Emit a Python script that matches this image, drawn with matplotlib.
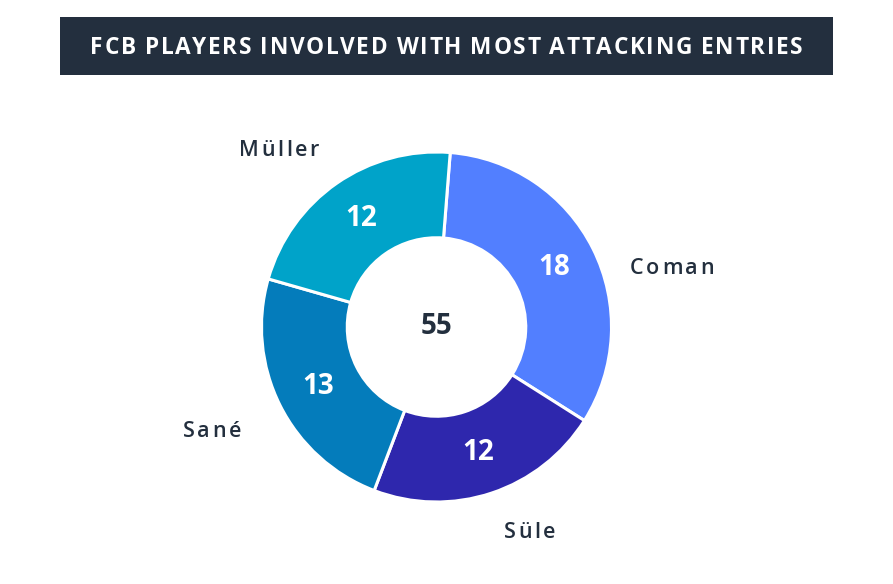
import matplotlib
matplotlib.use("Agg")
import matplotlib.pyplot as plt
import numpy as np
from matplotlib.patches import Rectangle
from matplotlib.font_manager import FontProperties
from matplotlib.transforms import ScaledTranslation

title = "FCB PLAYERS INVOLVED WITH MOST ATTACKING ENTRIES"
players = ["Coman", "Süle", "Sané", "Müller"]
entries = [18, 12, 13, 12]
colors = ["#527FFF", "#2E27AD", "#047CBB", "#00A3C9"]

W, H = 893, 584
DPI = 100
fig = plt.figure(figsize=(W / DPI, H / DPI), dpi=DPI)
fig.patch.set_facecolor("white")
plt.rcParams['font.family'] = ['Open Sans', 'DejaVu Sans']
renderer = fig.canvas.get_renderer()


def char_width(c, fp):
    if c == " ":
        a = renderer.get_text_width_height_descent("x x", fp, ismath=False)[0]
        b = renderer.get_text_width_height_descent("xx", fp, ismath=False)[0]
        return a - b
    return renderer.get_text_width_height_descent(c, fp, ismath=False)[0]


def tracked_text(x, y, s, transform, fp, color, ha="left", spacing=None,
                 target_width=None, dy_px=0.0):
    widths = [char_width(c, fp) for c in s]
    if target_width is not None:
        spacing = (target_width - sum(widths)) / (len(s) - 1)
    total = sum(widths) + spacing * (len(s) - 1)
    start = {"left": 0.0, "center": -total / 2, "right": -total}[ha]
    off = start
    for c, w in zip(s, widths):
        tr = transform + ScaledTranslation(off / DPI, dy_px / DPI, fig.dpi_scale_trans)
        fig.text(x, y, c, transform=tr, fontproperties=fp, color=color,
                 ha="left", va="baseline")
        off += w + spacing


# title banner
fig.patches.append(Rectangle((60 / W, 1 - 75 / H), (833 - 60) / W, (75 - 17) / H,
                             transform=fig.transFigure, facecolor="#232F3E",
                             edgecolor="none", zorder=0))
fp_title = FontProperties(family="Open Sans", weight="bold", size=16.3)
tracked_text(446.5 / W, 1 - 46 / H, title, fig.transFigure, fp_title, "white",
             ha="center", target_width=712, dy_px=-8.3)

# donut axes: center (436.5, 327) px, radius 175 px
cx, cy, rpx = 436.5, 327, 175
lim = 1.5
size = lim * 2 * rpx
ax = fig.add_axes([(cx - size / 2) / W, (H - cy - size / 2) / H, size / W, size / H])
ax.axis("off")

wedges, _ = ax.pie(entries, colors=colors, startangle=85.5, counterclock=False,
                   radius=1.0, wedgeprops=dict(width=0.49, edgecolor="white", linewidth=2.2))
ax.set_xlim(-lim, lim)
ax.set_ylim(-lim, lim)
ax.set_aspect("equal")

fp_label = FontProperties(family="Open Sans", weight="semibold", size=15.5)
label_adjust = {"Coman": (-9, 1.16), "Sané": (1, 1.26), "Müller": (-1.5, 1.225),
                "Süle": (0, 1.22)}
for w, name, val in zip(wedges, players, entries):
    mid = np.deg2rad((w.theta1 + w.theta2) / 2)
    x, y = np.cos(mid), np.sin(mid)
    ax.text(0.755 * x, 0.755 * y, str(val), color="white", fontsize=20,
            fontweight="bold", ha="center", va="center")
    dang, dist = label_adjust[name]
    a = mid + np.deg2rad(dang)
    lx, ly = dist * np.cos(a), dist * np.sin(a)
    ha = "left" if lx > 0 else "right"
    tracked_text(lx, ly, name, ax.transData, fp_label, "#232F3E", ha=ha,
                 spacing=2.6, dy_px=-8)

ax.text(0, 0, str(sum(entries)), color="#232F3E", fontsize=20, fontweight="bold",
        ha="center", va="center")

fig.savefig("out.png", dpi=DPI)
